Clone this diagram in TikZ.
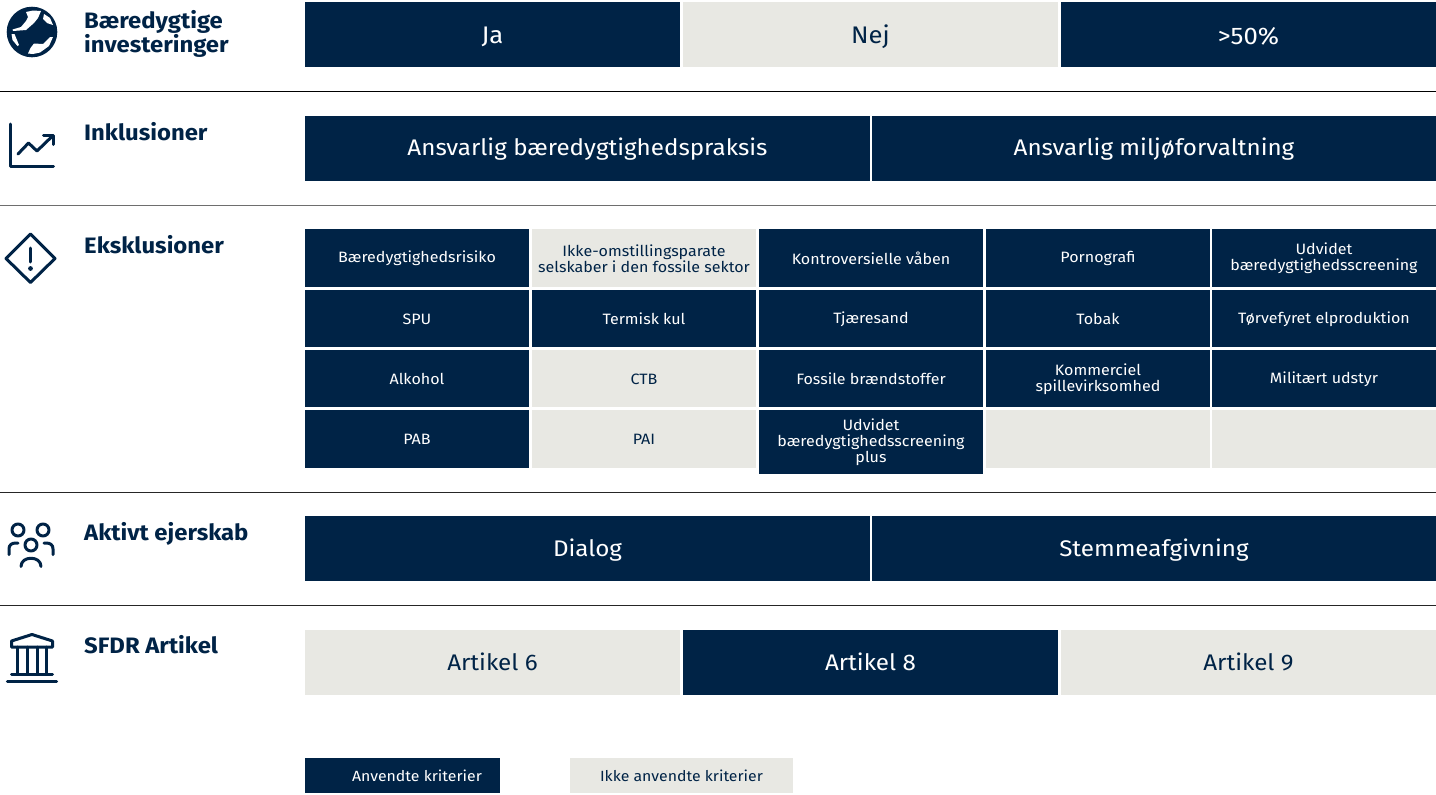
\documentclass[tikz,border=0pt]{standalone}
\usepackage{fontspec}
\setmainfont[FakeStretch=1.07]{Fira Sans}
\definecolor{navy}{HTML}{002346}
\definecolor{pale}{HTML}{E8E8E3}
\definecolor{rulegray}{HTML}{6E6E6E}
\tikzset{
  x=1pt,y=-1pt,
  cell/.style={minimum width=0pt,inner sep=0pt,align=center},
  on/.style={fill=navy,text=white},
  off/.style={fill=pale,text=navy},
  big/.style={font=\fontsize{22.6}{24}\selectfont},
  mid/.style={font=\fontsize{24}{24}\selectfont},
  small/.style={font=\fontsize{15}{16}\selectfont},
  tiny/.style={font=\fontsize{14.8}{15}\selectfont},
  head/.style={anchor=north west,inner sep=0pt,align=left,text=navy,font=\fontsize{22.3}{23}\selectfont\bfseries},
  icon/.style={draw=navy,line width=3pt,line cap=round,line join=round},
  sep/.style={line width=1pt}
}
\begin{document}
\begin{tikzpicture}
\useasboundingbox (0,0) rectangle (1436,795);
% separators
\coordinate (l1a) at (0,91); \coordinate (l1b) at (1436,91);
\coordinate (l2a) at (0,205); \coordinate (l2b) at (1436,205);
\coordinate (l3a) at (0,492); \coordinate (l3b) at (1436,492);
\coordinate (l4a) at (0,605); \coordinate (l4b) at (1436,605);
\draw[sep,black] (l1a) -- (l1b);
\draw[sep,rulegray] (l2a) -- (l2b);
\draw[sep,black!85] (l3a) -- (l3b);
\draw[sep,black!85] (l4a) -- (l4b);
% headings
\node[head] (h1) at (84,10) {Bæredygtige\\investeringer};
\node[head] (h2) at (84,122) {Inklusioner};
\node[head] (h3) at (84,235) {Eksklusioner};
\node[head] (h4) at (84,522) {Aktivt ejerskab};
\node[head] (h5) at (84,635) {SFDR Artikel};
% row 1
\foreach \nm/\st/\a/\b/\t in {r1a/on/305/680/Ja,r1b/off/683/1058/Nej,r1c/on/1061/1436/{>50\%}}{
  \path[\st] (\a,2) rectangle (\b,67);
  \node[cell,\st,fill=none,mid] (\nm) at ({(\a+\b)/2},36.5) {\t};
}
% row 2
\foreach \nm/\a/\b/\t in {r2a/305/870/Ansvarlig bæredygtighedspraksis,r2b/872/1436/Ansvarlig miljøforvaltning}{
  \path[on] (\a,116) rectangle (\b,181);
  \node[cell,on,fill=none,big] (\nm) at ({(\a+\b)/2},149.5) {\t};
}
% row 4
\foreach \nm/\a/\b/\t in {r4a/305/870/Dialog,r4b/872/1436/Stemmeafgivning}{
  \path[on] (\a,516) rectangle (\b,581);
  \node[cell,on,fill=none,big] (\nm) at ({(\a+\b)/2},550) {\t};
}
% row 5
\foreach \nm/\st/\a/\b/\t in {r5a/off/305/680/Artikel 6,r5b/on/683/1058/Artikel 8,r5c/off/1061/1436/Artikel 9}{
  \path[\st] (\a,630) rectangle (\b,695);
  \node[cell,\st,fill=none,big] (\nm) at ({(\a+\b)/2},662) {\t};
}
% exclusion grid
\foreach \nm/\st/\a/\b/\c/\d/\t in {
 g11/on/305/529/229/286.5/Bæredygtighedsrisiko,
 g12/off/532/756/229/286.5/{Ikke-omstillingsparate\\selskaber i den fossile sektor},
 g13/on/759/983/229/286.5/Kontroversielle våben,
 g14/on/986/1210/229/286.5/Pornografi,
 g15/on/1212/1436/229/286.5/{Udvidet\\bæredygtighedsscreening},
 g21/on/305/529/290/347/SPU,
 g22/on/532/756/290/347/Termisk kul,
 g23/on/759/983/290/347/Tjæresand,
 g24/on/986/1210/290/347/Tobak,
 g25/on/1212/1436/290/347/Tørvefyret elproduktion,
 g31/on/305/529/350/407/Alkohol,
 g32/off/532/756/350/407/CTB,
 g33/on/759/983/350/407/Fossile brændstoffer,
 g34/on/986/1210/350/407/{Kommerciel\\spillevirksomhed},
 g35/on/1212/1436/350/407/Militært udstyr,
 g41/on/305/529/410/468/PAB,
 g42/off/532/756/410/468/PAI,
 g43/on/759/983/410/474/{Udvidet\\bæredygtighedsscreening\\plus},
 g44/off/986/1210/410/468/{},
 g45/off/1212/1436/410/468/{}}{
  \path[\st] (\a,\c) rectangle (\b,\d);
  \node[cell,\st,fill=none,small] (\nm) at ({(\a+\b)/2},{(\c+\d)/2+0.5}) {\t};
}
% legend
\path[on] (305,758) rectangle (500,793);
\node[cell,on,fill=none,tiny] (leg1) at (417,776) {Anvendte kriterier};
\path[off] (570,758) rectangle (793,793);
\node[cell,off,fill=none,tiny] (leg2) at (681.5,776) {Ikke anvendte kriterier};
% globe
\fill[navy] (32,32) circle (25.3);
\fill[white] (26,12) -- (33,10.5) -- (41,11) -- (38,18) -- (34,23) -- (26,30) -- (13,31) -- (12.5,29.5) -- (21,27) -- (26,21) -- (28,17) -- cycle;
\fill[white] (44,14) -- (50,18) -- (53,25) -- (47,23) -- (43,19) -- cycle;
\fill[white] (11.5,34) -- (14.5,34) -- (19,45) -- (17.5,46) -- (12.5,40) -- cycle;
\fill[white] (28,53.5) -- (30.5,48) -- (34,43.5) -- (43,44) -- (50,37) -- (53,37) -- (49,46) -- (40,52.5) -- (33,54) -- cycle;
% chart
\draw[icon] (10.5,124) -- (10.5,166) -- (53.5,166);
\draw[icon] (18,154) -- (28.5,143) -- (37,151) -- (52.5,136);
\draw[icon] (43.5,135) -- (53,135) -- (53,144.5);
% warning
\draw[icon] (30.5,234) -- (55,258.5) -- (30.5,282.5) -- (6,258.5) -- cycle;
\draw[icon] (30.5,248) -- (30.5,262);
\fill[navy] (30.5,268.5) circle (2.4);
% people
\draw[icon] (18,530) circle (6);
\draw[icon] (43,530) circle (6);
\draw[icon] (31,545) circle (6);
\draw[icon] (9,554.5) -- (9,549) .. controls (9,545) and (11.5,543) .. (16,543) -- (18,543);
\draw[icon] (53,554.5) -- (53,549) .. controls (53,545) and (50.5,543) .. (46,543) -- (44,543);
\draw[icon] (21,566.5) .. controls (21,555.5) and (41,555.5) .. (41,566.5);
% bank
\draw[icon] (11.5,641) -- (11.5,647) -- (52.5,647) -- (52.5,641) -- (32,634.5) -- cycle;
\draw[icon] (17.5,647) -- (17.5,674);
\draw[icon] (27,647) -- (27,674);
\draw[icon] (37,647) -- (37,674);
\draw[icon] (46.5,647) -- (46.5,674);
\draw[icon] (11.5,674.5) -- (52.5,674.5);
\draw[icon,line width=3.4pt] (7.5,681.5) -- (56.5,681.5);
\end{tikzpicture}
\end{document}
